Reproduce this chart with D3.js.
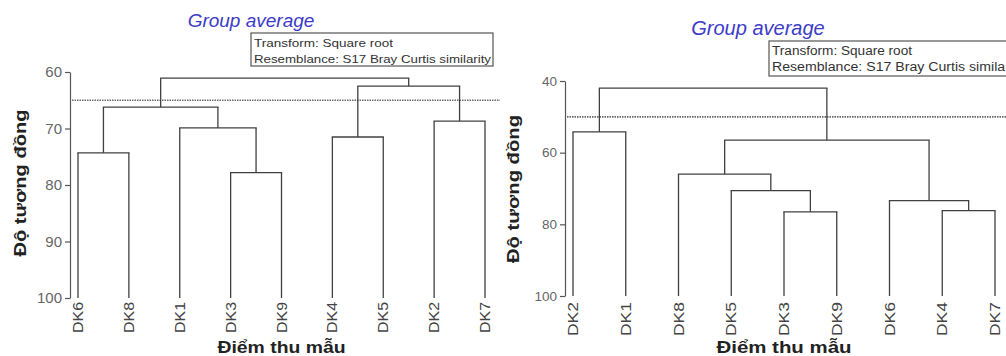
<!DOCTYPE html>
<html>
<head>
<meta charset="utf-8">
<script src="https://cdn.jsdelivr.net/npm/d3@7"></script>
<style>
  html, body { margin: 0; padding: 0; background: #fff; }
  svg { display: block; }
  text { font-family: "Liberation Sans", Arial, sans-serif; }
</style>
</head>
<body>
<svg id="chart" width="1006" height="356"></svg>
<script>
// ---------- DATA ----------
const titleText = "Group average";
const boxLines = ["Transform: Square root", "Resemblance: S17 Bray Curtis similarity"];
const yTitle = "Độ tương đồng";
const xTitle = "Điểm thu mẫu";

// Left dendrogram
const leftLeaves = ["DK6", "DK8", "DK1", "DK3", "DK9", "DK4", "DK5", "DK2", "DK7"];
const leftTicks = [60, 70, 80, 90, 100];
// merges: [id, childA, childB, similarity]
const leftMerges = [
  ["a", "DK6", "DK8", 74.3],
  ["b", "DK3", "DK9", 77.8],
  ["c", "DK1", "b", 69.9],
  ["d", "a", "c", 66.2],
  ["e", "DK4", "DK5", 71.5],
  ["f", "DK2", "DK7", 68.7],
  ["g", "e", "f", 62.5],
  ["h", "d", "g", 61.1]
];
const leftCut = 65;

// Right dendrogram
const rightLeaves = ["DK2", "DK1", "DK8", "DK5", "DK3", "DK9", "DK6", "DK4", "DK7"];
const rightTicks = [40, 60, 80, 100];
const rightMerges = [
  ["a", "DK2", "DK1", 54.2],
  ["b", "DK3", "DK9", 76.5],
  ["c", "DK5", "b", 70.6],
  ["d", "DK8", "c", 66.0],
  ["e", "DK4", "DK7", 76.2],
  ["f", "DK6", "e", 73.4],
  ["g", "d", "f", 56.5],
  ["h", "a", "g", 42.0]
];
const rightCut = 50;

// ---------- DRAW ----------
const svg = d3.select("#chart");
const lineColor = "#404040";

function drawPanel(cfg) {
  const g = svg.append("g");
  const x = d3.scalePoint().domain(cfg.leaves).range(cfg.xRange);
  const y = d3.scaleLinear().domain([cfg.ticks[0], 100]).range(cfg.yRange);

  // title
  g.append("text")
    .attr("x", cfg.titleX).attr("y", cfg.titleY)
    .attr("text-anchor", "middle")
    .attr("font-style", "italic")
    .attr("font-size", cfg.titleSize)
    .attr("fill", "#3c3cc8")
    .text(titleText);

  // info box
  g.append("rect")
    .attr("x", cfg.box[0]).attr("y", cfg.box[1])
    .attr("width", cfg.box[2]).attr("height", cfg.box[3])
    .attr("fill", "none").attr("stroke", "#555").attr("stroke-width", 1.2);
  boxLines.forEach((t, i) => {
    g.append("text")
      .attr("x", cfg.box[0] + 3)
      .attr("y", cfg.boxBase[i])
      .attr("font-size", cfg.boxSize)
      .attr("fill", "#333")
      .attr("textLength", cfg.boxLen[i])
      .attr("lengthAdjust", "spacingAndGlyphs")
      .text(t);
  });

  // cut line
  g.append("line")
    .attr("x1", cfg.axisX + 2).attr("x2", cfg.cutX2)
    .attr("y1", y(cfg.cut)).attr("y2", y(cfg.cut))
    .attr("stroke", "#666").attr("stroke-width", 1.6)
    .attr("stroke-dasharray", "1.5,1");

  // y axis
  const axis = d3.axisLeft(y).tickValues(cfg.ticks).tickSize(5).tickSizeOuter(0).tickPadding(3);
  const ag = g.append("g").attr("transform", `translate(${cfg.axisX},0)`).call(axis);
  ag.select(".domain").attr("stroke", "#555").attr("stroke-width", 1.2);
  ag.selectAll(".tick line").attr("stroke", "#555").attr("stroke-width", 1.2);
  ag.selectAll(".tick text")
    .attr("fill", "#666")
    .attr("font-size", cfg.tickSize)
    .attr("font-family", "Liberation Sans, Arial, sans-serif");

  // y title
  g.append("text")
    .attr("transform", `translate(${cfg.yTitleX},${cfg.yTitleY}) rotate(-90)`)
    .attr("text-anchor", "middle")
    .attr("font-weight", "bold")
    .attr("font-size", 16)
    .attr("fill", "#222")
    .attr("textLength", cfg.yTitleLen)
    .attr("lengthAdjust", "spacingAndGlyphs")
    .text(yTitle);

  // dendrogram
  const pos = {};
  cfg.leaves.forEach(l => { pos[l] = { x: x(l), h: 100 }; });
  cfg.merges.forEach(([id, a, b, h]) => {
    const A = pos[a], B = pos[b];
    [A, B].forEach(N => {
      g.append("line")
        .attr("x1", N.x).attr("x2", N.x)
        .attr("y1", y(N.h)).attr("y2", y(h))
        .attr("stroke", lineColor).attr("stroke-width", 1.3);
    });
    g.append("line")
      .attr("x1", A.x).attr("x2", B.x)
      .attr("y1", y(h)).attr("y2", y(h))
      .attr("stroke", lineColor).attr("stroke-width", 1.3)
      .attr("stroke-linecap", "square");
    pos[id] = { x: (A.x + B.x) / 2, h: h };
  });

  // leaf labels
  cfg.leaves.forEach(l => {
    g.append("text")
      .attr("transform", `translate(${x(l) + 5},${cfg.leafLabelY}) rotate(-90)`)
      .attr("text-anchor", "end")
      .attr("font-size", 14)
      .attr("fill", "#444")
      .attr("textLength", cfg.leafLen)
      .attr("lengthAdjust", "spacingAndGlyphs")
      .text(l);
  });

  // x title
  g.append("text")
    .attr("x", (cfg.xRange[0] + cfg.xRange[1]) / 2)
    .attr("y", cfg.xTitleY)
    .attr("text-anchor", "middle")
    .attr("font-weight", "bold")
    .attr("font-size", 16)
    .attr("fill", "#222")
    .attr("textLength", cfg.xTitleLen)
    .attr("lengthAdjust", "spacingAndGlyphs")
    .text(xTitle);
}

drawPanel({
  leaves: leftLeaves, merges: leftMerges, ticks: leftTicks, cut: leftCut,
  xRange: [78, 485], yRange: [72, 298], axisX: 70, cutX2: 500,
  titleX: 251, titleY: 27, titleSize: 19,
  box: [251, 33, 242, 33], boxBase: [47, 63], boxSize: 11.5, boxLen: [139, 237],
  tickSize: 15, yTitleX: 26, yTitleY: 183, yTitleLen: 147,
  leafLabelY: 302, leafLen: 31, xTitleY: 353, xTitleLen: 128
});

drawPanel({
  leaves: rightLeaves, merges: rightMerges, ticks: rightTicks, cut: rightCut,
  xRange: [573, 995], yRange: [81, 296], axisX: 565, cutX2: 1006,
  titleX: 758, titleY: 35, titleSize: 20,
  box: [769, 41, 245, 35], boxBase: [55, 71], boxSize: 12, boxLen: [140, 252],
  tickSize: 13.5, yTitleX: 519, yTitleY: 189, yTitleLen: 148,
  leafLabelY: 302, leafLen: 34, xTitleY: 353, xTitleLen: 135
});
</script>
</body>
</html>
